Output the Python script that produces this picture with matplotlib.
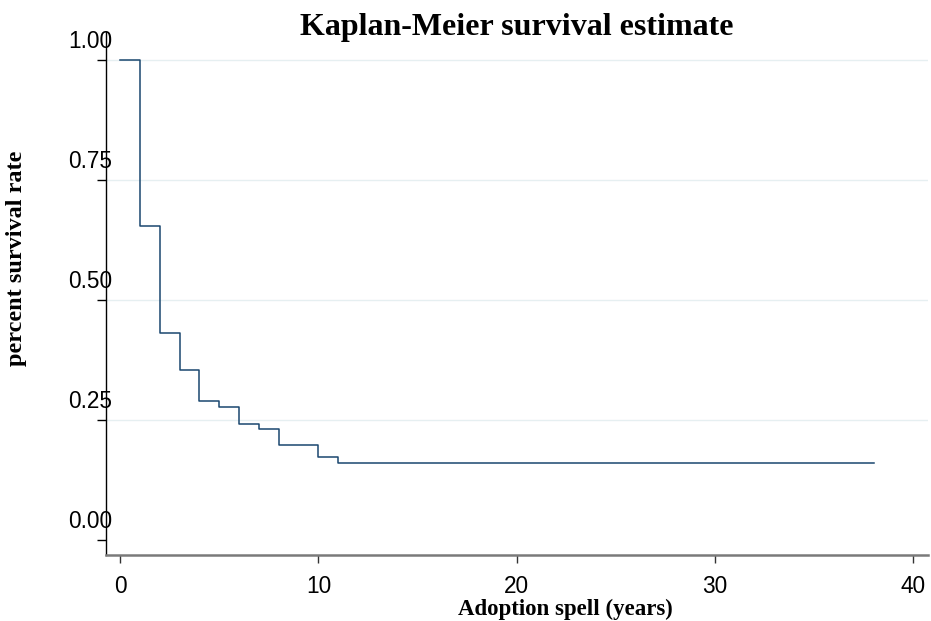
import matplotlib
matplotlib.use("Agg")
import matplotlib.pyplot as plt
from matplotlib.transforms import ScaledTranslation

# Data
times = [0, 1, 2, 3, 4, 5, 6, 7, 8, 10, 11, 38]
survival = [1.0, 0.655, 0.432, 0.355, 0.290, 0.277, 0.242, 0.232, 0.198, 0.174, 0.160, 0.160]
yticks = [0.0, 0.25, 0.50, 0.75, 1.00]
ytick_labels = ["0.00", "0.25", "0.50", "0.75", "1.00"]
xticks = [0, 10, 20, 30, 40]
xtick_labels = ["0", "10", "20", "30", "40"]
grid_levels = [0.25, 0.50, 0.75, 1.00]

fig = plt.figure(figsize=(9.31, 6.21), dpi=100)
ax = fig.add_axes([106 / 931, 1 - 554.5 / 621, (928 - 106) / 931, (554.5 - 32) / 621])

for g in grid_levels:
    ax.axhline(g, color="#e6eff1", linewidth=1.0, zorder=0)

ax.step(times, survival, where="post", color="#1a476f", linewidth=1.1, zorder=3)

ax.set_xlim(-0.71, 40.74)
ax.set_ylim(-0.03, 1.059)

ax.spines["top"].set_visible(False)
ax.spines["right"].set_visible(False)
ax.spines["left"].set_color("black")
ax.spines["left"].set_linewidth(1.0)
ax.spines["bottom"].set_color("#7a7a7a")
ax.spines["bottom"].set_linewidth(1.8)

ax.set_yticks(yticks)
ax.set_yticklabels(ytick_labels, fontfamily="Liberation Sans", fontsize=16.3)
ax.set_xticks(xticks)
ax.set_xticklabels(xtick_labels, fontfamily="Liberation Sans", fontsize=16.3)
ax.tick_params(axis="y", length=6.7, width=1.0, color="black", pad=0)
ax.tick_params(axis="x", length=6.0, width=1.0, color="#333333", pad=8.5)

offset = ScaledTranslation(0.157, 0.215, fig.dpi_scale_trans)
for lab in ax.get_yticklabels():
    lab.set_transform(lab.get_transform() + offset)

fig.text(517 / 931, 1 - 28 / 621, "Kaplan-Meier survival estimate",
         ha="center", va="center", fontfamily="Liberation Serif",
         fontweight="bold", fontsize=23)
fig.text(565 / 931, 1 - 609 / 621, "Adoption spell (years)",
         ha="center", va="center", fontfamily="Liberation Serif",
         fontweight="bold", fontsize=16.5)
fig.text(17 / 931, 1 - 258 / 621, "percent survival rate",
         ha="center", va="center", rotation=90, fontfamily="Liberation Serif",
         fontweight="bold", fontsize=17.5)

fig.savefig("out.png", dpi=100)
